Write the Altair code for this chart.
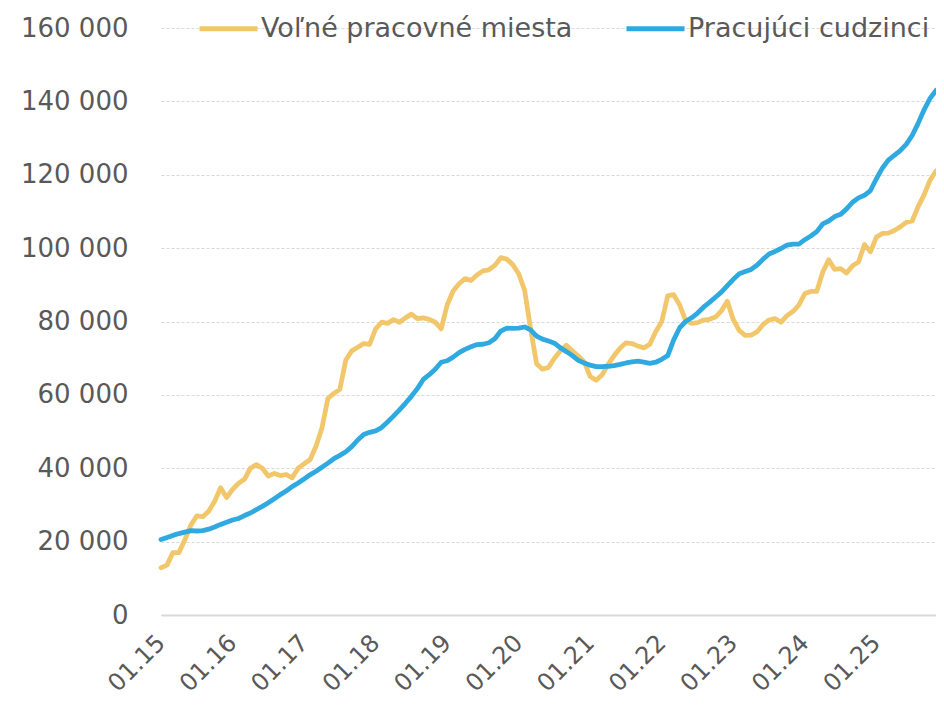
import altair as alt
import pandas as pd

# month index 0 = 01.2015 ... 130 = 11.2025
years = [str(y)[2:] for y in range(2015, 2026)]
months = [f"{m:02d}.{y}" for y in years for m in range(1, 13)][:131]
jan_labels = [f"01.{y}" for y in years]

volne = [
    12900, 13600, 17000, 17000, 20500, 24500, 27000, 26800, 28300, 31000, 34700, 32000,
    34200, 35900, 37000, 40000, 41000, 40000, 37900, 38600, 38000, 38300, 37400, 40000,
    41200, 42300, 46000, 51000, 59000, 60400, 61500, 69500, 72000, 73000, 74000, 73800,
    78000, 79800, 79500, 80500, 79800, 81000, 82000, 80800, 81000, 80600, 79800, 78000,
    84500, 88300, 90300, 91700, 91200, 92700, 93800, 94100, 95300, 97400, 97000, 95500,
    93000, 88500, 78000, 68500, 67000, 67500, 70000, 72000, 73500, 72000, 70600, 69000,
    65000, 64000, 65500, 68300, 70700, 72700, 74200, 74000, 73300, 72800, 73800, 77300,
    80000, 87000, 87300, 84500, 80300, 79500, 79700, 80400, 80600, 81200, 82900, 85500,
    80500, 77500, 76200, 76300, 77200, 79200, 80400, 80800, 79800, 81600, 82700, 84500,
    87600, 88200, 88200, 93500, 96800, 94200, 94400, 93200, 95200, 96200, 101000, 99000,
    103000, 104000, 104100, 104800, 105800, 107000, 107400, 111300, 114500, 118500, 121000,
]

cudzinci = [
    20600, 21100, 21700, 22200, 22600, 23000, 22900, 23000, 23400, 24000, 24700, 25300,
    25900, 26300, 27100, 27800, 28700, 29600, 30600, 31700, 32800, 33800, 35000, 36000,
    37100, 38200, 39200, 40300, 41400, 42600, 43500, 44500, 45900, 47700, 49200, 49800,
    50200, 51100, 52600, 54200, 55900, 57700, 59600, 61700, 64200, 65500, 67000, 68900,
    69300, 70300, 71500, 72400, 73100, 73700, 73800, 74200, 75300, 77400, 78200, 78100,
    78200, 78500, 77700, 76000, 75200, 74700, 74100, 72800, 71800, 70700, 69400, 68700,
    68100, 67700, 67700, 67800, 68000, 68300, 68700, 69000, 69200, 68900, 68600, 68900,
    69700, 70700, 75000, 78300, 80000, 81000, 82300, 83900, 85200, 86600, 88000, 89800,
    91500, 93000, 93600, 94200, 95400, 97000, 98400, 99100, 99900, 100800, 101100, 101100,
    102300, 103300, 104500, 106600, 107400, 108600, 109200, 110700, 112500, 113700, 114400, 115700,
    118900, 121800, 124000, 125300, 126600, 128300, 130700, 134000, 137700, 140800, 143000,
]

series_names = ["Voľné pracovné miesta", "Pracujúci cudzinci"]
series_colors = ["#F2C76B", "#2FAAE1"]

df = pd.concat([
    pd.DataFrame({"month": months, "value": volne, "series": series_names[0], "order": range(len(months))}),
    pd.DataFrame({"month": months, "value": cudzinci, "series": series_names[1], "order": range(len(months))}),
])

font = "DejaVu Sans"
label_color = "#595959"

chart = alt.Chart(df).mark_line(strokeWidth=4.8, strokeJoin="round", strokeCap="round").encode(
    x=alt.X(
        "month:O",
        sort=months,
        scale=alt.Scale(type="point", padding=0),
        axis=alt.Axis(
            title=None,
            values=jan_labels,
            labelAngle=-45,
            labelAlign="right",
            labelBaseline="middle",
            labelPadding=24,
            labelFont=font,
            labelFontSize=24,
            labelColor=label_color,
            ticks=False,
            tickSize=0,
            domain=True,
            domainColor="#D9D9D9",
            domainWidth=2,
            grid=False,
        ),
    ),
    y=alt.Y(
        "value:Q",
        scale=alt.Scale(domain=[0, 160000], nice=False),
        axis=alt.Axis(
            title=None,
            values=[0, 20000, 40000, 60000, 80000, 100000, 120000, 140000, 160000],
            labelExpr="replace(format(datum.value, ','), regexp(',', 'g'), ' ')",
            labelPadding=33,
            labelFont=font,
            labelFontSize=26,
            labelColor=label_color,
            ticks=False,
            tickSize=0,
            domain=False,
            grid=True,
            gridColor="#D9D9D9",
            gridWidth=1,
            gridDash=[3, 2],
        ),
    ),
    color=alt.Color(
        "series:N",
        scale=alt.Scale(domain=series_names, range=series_colors),
        sort=series_names,
        legend=alt.Legend(
            title=None,
            orient="none",
            direction="horizontal",
            legendX=36,
            legendY=-31,
            symbolType="stroke",
            symbolSize=3364,
            symbolStrokeWidth=4.8,
            labelFont=font,
            labelFontSize=27,
            labelColor=label_color,
            labelOffset=1,
            columnPadding=43,
            labelLimit=400,
        ),
    ),
    order="order:Q",
).properties(
    width=775,
    height=587,
    autosize=alt.AutoSizeParams(type="none"),
    padding={"left": 153, "top": 20, "right": 0, "bottom": 84},
).configure_view(stroke=None)

chart.save("out.html", embed_options={"renderer": "svg", "actions": False})
